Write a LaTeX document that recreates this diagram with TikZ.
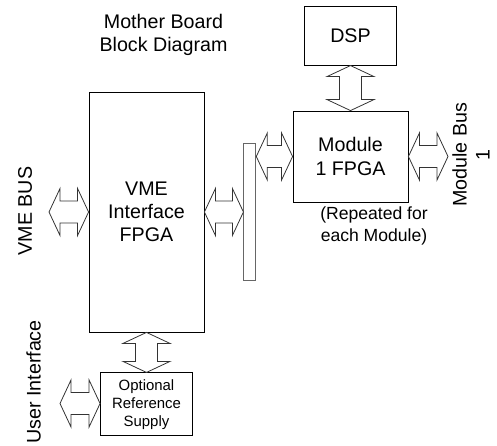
\documentclass[tikz,border=0pt]{standalone}
\usepackage{fontspec}
\setmainfont{Liberation Sans}
\usetikzlibrary{calc,positioning}

% hollow two-headed bus arrows between two points (left to right / top to bottom)
\newcommand{\hbus}[2]{%
  \draw[bus] let \p1=(#1), \p2=(#2) in
    (\x1,\y1) -- (\x1+0.22cm,\y1+0.47cm) -- (\x1+0.22cm,\y1+0.22cm)
    -- (\x2-0.22cm,\y1+0.22cm) -- (\x2-0.22cm,\y1+0.47cm) -- (\x2,\y1)
    -- (\x2-0.22cm,\y1-0.47cm) -- (\x2-0.22cm,\y1-0.22cm)
    -- (\x1+0.22cm,\y1-0.22cm) -- (\x1+0.22cm,\y1-0.47cm) -- cycle;}
\newcommand{\vbus}[2]{%
  \draw[bus] let \p1=(#1), \p2=(#2) in
    (\x1,\y1) -- (\x1+0.47cm,\y1-0.22cm) -- (\x1+0.22cm,\y1-0.22cm)
    -- (\x1+0.22cm,\y2+0.22cm) -- (\x1+0.47cm,\y2+0.22cm) -- (\x1,\y2)
    -- (\x1-0.47cm,\y2+0.22cm) -- (\x1-0.22cm,\y2+0.22cm)
    -- (\x1-0.22cm,\y1-0.22cm) -- (\x1-0.47cm,\y1-0.22cm) -- cycle;}

\begin{document}
\begin{tikzpicture}[x=0.02cm,y=-0.02cm,font=\fontsize{11.2}{13.2}\selectfont,line width=0.5pt]
\tikzstyle{blk}=[draw,align=center,inner sep=1pt]
\tikzstyle{bus}=[draw=black!80,fill=white,line width=0.45pt,line join=miter]
\tikzstyle{lbl}=[align=center,inner sep=0pt]
\useasboundingbox (0,0) rectangle (497,446);
\node[lbl] (title) at (163.5,35) {Mother Board\\Block Diagram};
\node[blk,minimum width=2.3cm,minimum height=4.8cm] (vme) at (146.5,212) {VME\\Interface\\FPGA};
\node[draw=black!60,minimum width=0.24cm,minimum height=2.74cm,inner sep=0pt,right=0.78cm of vme] (bar) {};
\node[blk,minimum width=2.3cm,minimum height=1.82cm] (mod) at (350.5,156.5) {Module\\1 FPGA};
\node[blk,minimum width=1.84cm,minimum height=1.18cm,above=0.9cm of mod] (dsp) {DSP};
\node[blk,minimum width=1.84cm,minimum height=1.26cm,below=0.8cm of vme,font=\fontsize{8.5}{10.2}\selectfont] (sup) {Optional\\Reference\\Supply};
\node[lbl,font=\fontsize{10}{12.5}\selectfont] (rep) at (374,226) {(Repeated for\\each Module)};
\node[lbl,rotate=90] (vmebus) at (25,211) {VME BUS};
\node[lbl,rotate=90] (user) at (33.5,382) {User Interface};
\node[lbl,rotate=90] (modbus) at (471,155) {Module Bus\\1};
% free ends of the outside buses
\coordinate (vmeext) at (49,212);
\coordinate (modext) at (448,156.5);
\coordinate (uiext) at (60,403.5);
\hbus{vmeext}{vme.west}
\hbus{vme.east}{vme.east -| bar.west}
\hbus{bar.east |- mod.west}{mod.west}
\hbus{mod.east}{modext}
\vbus{dsp.south}{mod.north}
\vbus{vme.south}{sup.north}
\hbus{uiext}{sup.west}
\end{tikzpicture}
\end{document}
